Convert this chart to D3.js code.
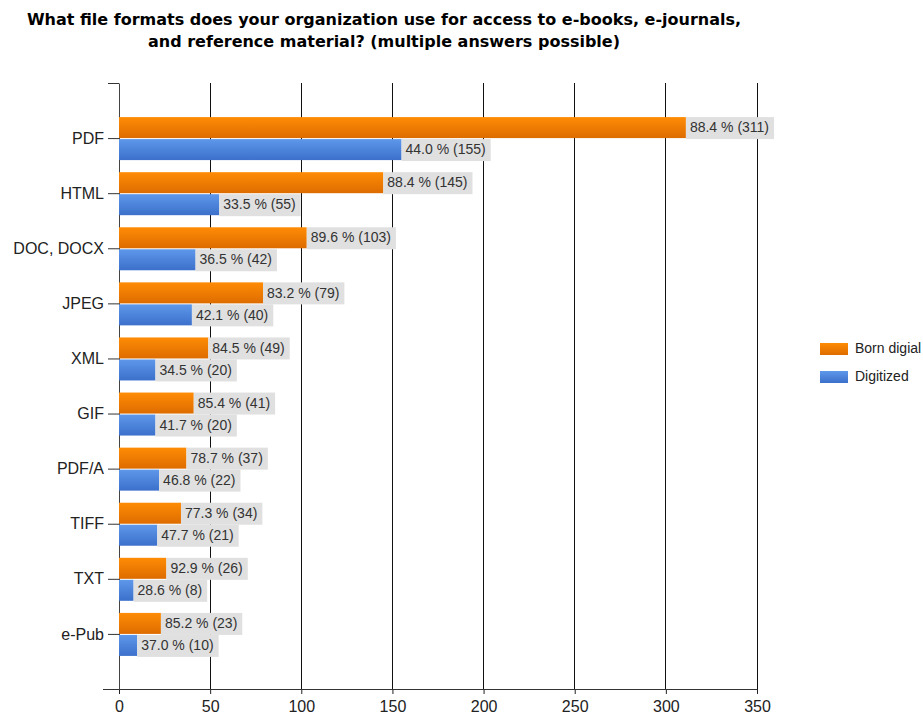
<!DOCTYPE html>
<html>
<head>
<meta charset="utf-8">
<script src="https://cdn.jsdelivr.net/npm/d3@7"></script>
<style>
  html, body { margin: 0; padding: 0; background: #fff; }
  svg { display: block; font-family: "Liberation Sans", Arial, sans-serif; }
</style>
</head>
<body>
<svg id="chart" width="923" height="714"></svg>
<script>
// File formats used for e-books, e-journals and reference material
const categories = ["PDF", "HTML", "DOC, DOCX", "JPEG", "XML", "GIF", "PDF/A", "TIFF", "TXT", "e-Pub"];
const bornDigital = [311, 145, 103, 79, 49, 41, 37, 34, 26, 23];
const bornDigitalPct = [88.4, 88.4, 89.6, 83.2, 84.5, 85.4, 78.7, 77.3, 92.9, 85.2];
const digitized = [155, 55, 42, 40, 20, 20, 22, 21, 8, 10];
const digitizedPct = [44.0, 33.5, 36.5, 42.1, 34.5, 41.7, 46.8, 47.7, 28.6, 37.0];
const xTicks = [0, 50, 100, 150, 200, 250, 300, 350];
const seriesNames = ["Born digial", "Digitized"];

const svg = d3.select("#chart");
const plotLeft = 119, plotRight = 757, plotTop = 83, plotBottom = 689;

const x = d3.scaleLinear().domain([0, 350]).range([plotLeft, plotRight]);
const y = d3.scalePoint().domain(categories).range([plotTop, plotBottom]).padding(1);

// gradients for the bars
const defs = svg.append("defs");
function grad(id, c1, c2) {
  const g = defs.append("linearGradient").attr("id", id)
    .attr("x1", 0).attr("y1", 0).attr("x2", 0).attr("y2", 1);
  g.append("stop").attr("offset", "0%").attr("stop-color", c1);
  g.append("stop").attr("offset", "100%").attr("stop-color", c2);
}
grad("gOrange", "#ff8c05", "#dd6c00");
grad("gBlue", "#5e98ea", "#3c70cb");

// title
const title = svg.append("text")
  .attr("x", 384).attr("y", 25)
  .attr("text-anchor", "middle")
  .attr("font-family", "'DejaVu Sans', sans-serif")
  .attr("font-size", 16).attr("font-weight", "bold").attr("fill", "#000");
title.append("tspan").attr("x", 384).attr("dy", 0)
  .text("What file formats does your organization use for access to e-books, e-journals,");
title.append("tspan").attr("x", 384).attr("dy", 22)
  .text("and reference material? (multiple answers possible)");

// vertical grid lines
svg.append("g").selectAll("line")
  .data(xTicks.slice(1))
  .join("line")
  .attr("x1", d => x(d)).attr("x2", d => x(d))
  .attr("y1", plotTop).attr("y2", plotBottom)
  .attr("stroke", "#111").attr("stroke-width", 1)
  .attr("shape-rendering", "crispEdges");

// x axis
const xAxis = svg.append("g")
  .attr("transform", `translate(0,${plotBottom})`)
  .call(d3.axisBottom(x).tickValues(xTicks).tickSize(5).tickSizeOuter(0));
xAxis.select(".domain").remove();
xAxis.selectAll(".tick line").attr("stroke", "#222");
xAxis.selectAll(".tick text")
  .attr("font-family", "Liberation Sans, Arial, sans-serif")
  .attr("font-size", 16).attr("fill", "#222").attr("dy", "0.95em").attr("y", 8);
svg.append("line")
  .attr("x1", 103).attr("x2", plotRight).attr("y1", plotBottom).attr("y2", plotBottom)
  .attr("stroke", "#333").attr("shape-rendering", "crispEdges");

// y axis
const yAxis = svg.append("g")
  .attr("transform", `translate(${plotLeft},0)`)
  .call(d3.axisLeft(y).tickSize(11).tickSizeOuter(0).tickPadding(4));
yAxis.select(".domain").attr("stroke", "#444");
yAxis.selectAll(".tick line").attr("stroke", "#333");
yAxis.selectAll(".tick text")
  .attr("font-family", "Liberation Sans, Arial, sans-serif")
  .attr("font-size", 16).attr("fill", "#222");
svg.append("line")
  .attr("x1", 108).attr("x2", plotLeft).attr("y1", plotTop).attr("y2", plotTop)
  .attr("stroke", "#333").attr("shape-rendering", "crispEdges");

// bars with value labels
const barH = 21;
const series = [
  { vals: bornDigital, pct: bornDigitalPct, fill: "url(#gOrange)", off: -barH },
  { vals: digitized, pct: digitizedPct, fill: "url(#gBlue)", off: 1 }
];
series.forEach(s => {
  const g = svg.append("g");
  categories.forEach((c, i) => {
    const y0 = y(c) + s.off;
    const xEnd = x(s.vals[i]);
    g.append("rect")
      .attr("x", x(0)).attr("y", y0)
      .attr("width", xEnd - x(0)).attr("height", barH)
      .attr("fill", s.fill);
    const box = g.append("rect")
      .attr("x", xEnd).attr("y", y0).attr("height", barH + 1)
      .attr("fill", "#e0e0e0");
    const t = g.append("text")
      .attr("x", xEnd + 4).attr("y", y0 + barH / 2 + 1)
      .attr("dominant-baseline", "middle")
      .attr("font-size", 14).attr("fill", "#333")
      .text(`${s.pct[i].toFixed(1)} % (${s.vals[i]})`);
    box.attr("width", t.node().getComputedTextLength() + 9);
  });
});

// legend
const legend = svg.append("g");
const swatches = ["url(#gOrange)", "url(#gBlue)"];
seriesNames.forEach((n, i) => {
  const ly = 343 + i * 28;
  legend.append("rect").attr("x", 820).attr("y", ly).attr("width", 28).attr("height", 12)
    .attr("fill", swatches[i]);
  legend.append("text").attr("x", 855).attr("y", ly + 6)
    .attr("dominant-baseline", "middle")
    .attr("font-size", 14).attr("fill", "#222").text(n);
});
</script>
</body>
</html>
